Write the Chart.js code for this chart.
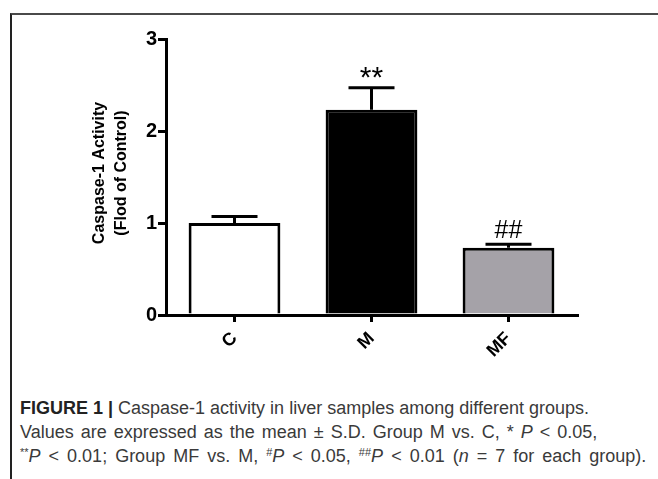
<!DOCTYPE html>
<html>
<head>
<meta charset="utf-8">
<script src="https://cdn.jsdelivr.net/npm/chart.js@4.4.1/dist/chart.umd.min.js"></script>
<style>
  html, body { margin: 0; padding: 0; background: #fff; }
  body { width: 658px; height: 479px; position: relative; overflow: hidden; }
  #box { position: absolute; left: 10px; top: 13px; width: 660px; height: 480px;
         border-left: 2px solid #222; border-top: 2px solid #4a4a4a; }
  #wrap { position: absolute; left: 0; top: 0; width: 658px; height: 372px; }
  #cap { position: absolute; left: 20px; top: 396px; font-family: "Liberation Sans", Arial, sans-serif;
         font-size: 18px; line-height: 24px; color: #3a3a3a; white-space: nowrap; }
  #cap b { color: #222; }
  #cap sup { font-size: 11px; vertical-align: 6px; line-height: 0; }
  #l2 { word-spacing: 2px; }
  #l3 { word-spacing: 3px; }
</style>
</head>
<body>
<div id="box"></div>
<div id="wrap"><canvas id="c" width="658" height="372"></canvas></div>
<div id="cap">
  <div id="l1"><b>FIGURE 1 |</b> Caspase-1 activity in liver samples among different groups.</div>
  <div id="l2">Values are expressed as the mean ± S.D. Group M vs. C, * <i>P</i> &lt; 0.05,</div>
  <div id="l3"><sup>**</sup><i>P</i> &lt; 0.01; Group MF vs. M, <sup>#</sup><i>P</i> &lt; 0.05, <sup>##</sup><i>P</i> &lt; 0.01 (<i>n</i> = 7 for each group).</div>
</div>
<script>
const categories = ["C", "M", "MF"];
const meanValues = [1.00, 2.23, 0.73];
const sdValues = [0.07, 0.24, 0.04];
const significance = ["", "**", "##"];
const yTicks = [0, 1, 2, 3];
const yTitle = ["Caspase-1 Activity", "(Flod of Control)"];
const barColors = ["#ffffff", "#000000", "#a5a2a8"];

const FONT = '"Liberation Sans", Arial, sans-serif';

const errorBarPlugin = {
  id: 'errorBars',
  afterDatasetsDraw(chart) {
    const ctx = chart.ctx;
    const xs = chart.scales.x, ys = chart.scales.y;
    ctx.save();
    ctx.strokeStyle = '#000';
    ctx.lineWidth = 3;
    ctx.lineCap = 'butt';
    meanValues.forEach((v, i) => {
      const x = xs.getPixelForValue(i);
      const yTop = ys.getPixelForValue(v + sdValues[i]);
      const yMean = ys.getPixelForValue(v);
      ctx.beginPath();
      ctx.moveTo(x, yMean);
      ctx.lineTo(x, yTop);
      ctx.moveTo(x - 23, yTop);
      ctx.lineTo(x + 23, yTop);
      ctx.stroke();
      const s = significance[i];
      if (s) {
        ctx.fillStyle = '#000';
        ctx.textAlign = 'center';
        ctx.textBaseline = 'alphabetic';
        if (s.indexOf('*') >= 0) {
          ctx.font = '30px ' + FONT;
          ctx.fillText(s, x, yTop - 1);
        } else {
          ctx.font = '25px ' + FONT;
          ctx.fillText(s, x, yTop - 6);
        }
      }
    });
    // y axis title (two rotated lines)
    const cy = (chart.chartArea.top + chart.chartArea.bottom) / 2 - 4;
    ctx.fillStyle = '#000';
    ctx.font = 'bold 16px ' + FONT;
    ctx.textAlign = 'center';
    ctx.textBaseline = 'middle';
    [100, 122].forEach((tx, k) => {
      ctx.save();
      ctx.translate(tx, cy);
      ctx.rotate(-Math.PI / 2);
      ctx.fillText(yTitle[k], 0, 0);
      ctx.restore();
    });
    ctx.restore();
  }
};

new Chart(document.getElementById('c'), {
  type: 'bar',
  data: {
    labels: categories,
    datasets: [{
      data: meanValues,
      backgroundColor: barColors,
      borderColor: '#000',
      borderWidth: 3,
      borderSkipped: 'bottom',
      categoryPercentage: 1.0,
      barPercentage: 0.67
    }]
  },
  options: {
    responsive: false,
    animation: false,
    devicePixelRatio: 1,
    layout: { padding: { left: 0, right: 81, top: 39, bottom: 0 } },
    plugins: { legend: { display: false }, tooltip: { enabled: false } },
    scales: {
      x: {
        type: 'category',
        offset: true,
        grid: { display: true, offset: false, drawOnChartArea: false, drawTicks: true, tickLength: 7, color: '#000', lineWidth: 3 },
        border: { display: true, color: '#000', width: 3 },
        ticks: { color: '#000', font: { family: FONT, size: 18, weight: 'bold' },
                 maxRotation: 45, minRotation: 45, padding: 6 },
        afterFit(scale) { scale.height = 372 - 315; }
      },
      y: {
        min: 0, max: 3,
        afterBuildTicks(scale) { scale.ticks = yTicks.map(v => ({ value: v })); },
        grid: { display: true, drawOnChartArea: false, drawTicks: true, tickLength: 8, color: '#000', lineWidth: 3 },
        border: { display: true, color: '#000', width: 3 },
        ticks: { color: '#000', font: { family: FONT, size: 20, weight: 'bold' }, padding: 1 },
        afterFit(scale) { scale.width = 166; }
      }
    }
  },
  plugins: [errorBarPlugin]
});
</script>
</body>
</html>
